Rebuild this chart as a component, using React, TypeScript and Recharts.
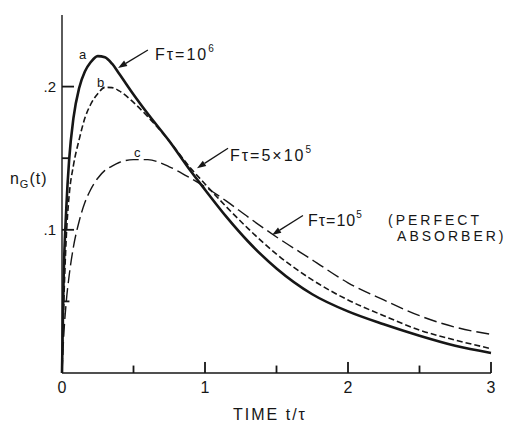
import { LineChart, Line, XAxis, YAxis, ReferenceDot, ReferenceLine } from 'recharts';

const INK = '#161616';
const FONT = "'Liberation Sans', Arial, sans-serif";

// time t/tau
const times = [0, 0.01, 0.03, 0.05, 0.08, 0.12, 0.16, 0.2, 0.25, 0.3, 0.35, 0.4, 0.5, 0.6, 0.75, 0.9, 1.0, 1.15, 1.3, 1.5, 1.75, 2.0, 2.25, 2.5, 2.75, 3.0];
// a: F tau = 10^6
const curveA = [0, 0.06, 0.115, 0.149, 0.178, 0.199, 0.2105, 0.217, 0.2213, 0.2205, 0.216, 0.209, 0.1945, 0.181, 0.162, 0.141, 0.128, 0.109, 0.092, 0.073, 0.055, 0.043, 0.034, 0.026, 0.019, 0.014];
// b: F tau = 5 x 10^5
const curveB = [0, 0.04, 0.095, 0.124, 0.145, 0.163, 0.178, 0.1875, 0.195, 0.1995, 0.1993, 0.197, 0.189, 0.179, 0.162, 0.143, 0.132, 0.116, 0.101, 0.083, 0.065, 0.051, 0.04, 0.03, 0.023, 0.017];
// c: F tau = 10^5 (perfect absorber)
const curveC = [0, 0.022, 0.05, 0.068, 0.088, 0.106, 0.119, 0.128, 0.136, 0.1415, 0.1445, 0.147, 0.149, 0.149, 0.144, 0.136, 0.13, 0.12, 0.109, 0.095, 0.079, 0.063, 0.051, 0.04, 0.032, 0.027];

const xTicks = [0, 0.5, 1, 1.5, 2, 2.5, 3];
const yTicks = [0.05, 0.1, 0.15, 0.2];
const yTickLabels: Record<string, string> = { '0.1': '.1', '0.2': '.2' };

const rows = times.map((t, i) => ({ t, a: curveA[i], b: curveB[i], c: curveC[i] }));

function arrowShape(p: any) {
  const { x1, y1, x2, y2 } = p;
  const ang = Math.atan2(y2 - y1, x2 - x1);
  const len = 9;
  const half = 3.2;
  const bx = x2 - len * Math.cos(ang);
  const by = y2 - len * Math.sin(ang);
  const px = -Math.sin(ang) * half;
  const py = Math.cos(ang) * half;
  return (
    <g>
      <line x1={x1} y1={y1} x2={bx} y2={by} stroke={INK} strokeWidth={1.3} />
      <polygon points={`${x2},${y2} ${bx + px},${by + py} ${bx - px},${by - py}`} fill={INK} />
    </g>
  );
}

// inward tick mark drawn as a thin filled bar from the segment end points
function tickShape(p: any) {
  const { x1, y1, x2, y2 } = p;
  const x = Math.min(x1, x2) - (x1 === x2 ? 0.9 : 0);
  const y = Math.min(y1, y2) - (y1 === y2 ? 0.9 : 0);
  const w = x1 === x2 ? 1.8 : Math.abs(x2 - x1);
  const h = y1 === y2 ? 1.8 : Math.abs(y2 - y1);
  return <rect x={x} y={y} width={w} height={h} fill={INK} />;
}

const textAt = (key: string, t: number, v: number, content: any, size = 16, spacing = 2) => (
  <ReferenceDot
    key={key}
    x={t}
    y={v}
    r={0}
    ifOverflow="visible"
    shape={(p: any) => (
      <text x={p.cx} y={p.cy} fontSize={size} letterSpacing={spacing} fontFamily={FONT} fill={INK}>
        {content}
      </text>
    )}
  />
);

const arrowAt = (key: string, from: [number, number], to: [number, number]) => (
  <ReferenceLine
    key={key}
    segment={[{ x: from[0], y: from[1] }, { x: to[0], y: to[1] }]}
    ifOverflow="visible"
    shape={arrowShape}
  />
);

export default function App() {
  return (
    <div style={{ position: 'absolute', left: 0, top: 0, background: '#fff' }}>
      <LineChart width={512} height={423} data={rows} margin={{ top: 15, right: 21, left: 0, bottom: 0 }}>
        <XAxis
          dataKey="t"
          type="number"
          domain={[0, 3]}
          ticks={xTicks}
          height={50}
          tickSize={0}
          tickMargin={9}
          tickLine={false}
          tickFormatter={(v: number) => (Number.isInteger(v) ? String(v) : '')}
          tick={{ fontSize: 16, fill: INK, fontFamily: FONT }}
          axisLine={{ stroke: INK, strokeWidth: 1.4 }}
        />
        <YAxis
          type="number"
          domain={[0, 0.25]}
          ticks={yTicks}
          width={62}
          tickSize={0}
          tickMargin={6}
          tickLine={false}
          tickFormatter={(v: number) => yTickLabels[String(v)] ?? ''}
          tick={{ fontSize: 15, fill: INK, fontFamily: FONT }}
          axisLine={{ stroke: INK, strokeWidth: 1.4 }}
        />

        {/* inward tick marks */}
        {xTicks.map((t) => (
          <ReferenceLine
            key={`xt${t}`}
            segment={[{ x: t, y: 0 }, { x: t, y: Number.isInteger(t) ? 0.0077 : 0.0052 }]}
            ifOverflow="visible"
            shape={tickShape}
          />
        ))}
        {yTicks.map((v) => (
          <ReferenceLine
            key={`yt${v}`}
            segment={[{ x: 0, y: v }, { x: yTickLabels[String(v)] ? 0.084 : 0.052, y: v }]}
            ifOverflow="visible"
            shape={tickShape}
          />
        ))}

        <Line dataKey="c" type="monotone" stroke={INK} strokeWidth={1.4} strokeDasharray="13 5" dot={false} isAnimationActive={false} />
        <Line dataKey="b" type="monotone" stroke={INK} strokeWidth={1.6} strokeDasharray="6 3" dot={false} isAnimationActive={false} />
        <Line dataKey="a" type="monotone" stroke={INK} strokeWidth={2.6} dot={false} isAnimationActive={false} />

        {arrowAt('arA', [0.601, 0.2256], [0.392, 0.213])}
        {arrowAt('arB', [1.161, 0.157], [0.944, 0.143])}
        {arrowAt('arC', [1.685, 0.11], [1.469, 0.0964])}

        {textAt('la', 0.119, 0.219, 'a', 13, 0)}
        {textAt('lb', 0.245, 0.1997, 'b', 13, 0)}
        {textAt('lc', 0.503, 0.151, 'c', 13, 0)}

        {textAt('nA', 0.65, 0.2186, <>Fτ=10<tspan dy={-8} fontSize={10}>6</tspan></>)}
        {textAt('nB', 1.175, 0.148, <>Fτ=5×10<tspan dy={-8} fontSize={10}>5</tspan></>)}
        {textAt('nC', 1.72, 0.1027, <>Fτ=10<tspan dy={-8} fontSize={10}>5</tspan></>, 16, 1)}
        {textAt('nC2', 2.28, 0.1034, '(PERFECT', 14, 3)}
        {textAt('nC3', 2.343, 0.0922, 'ABSORBER)', 14, 3)}

        {textAt('yl', -0.364, 0.132, <>n<tspan dy={4} fontSize={11}>G</tspan><tspan dy={-4}>(t)</tspan></>, 16, 1)}
        {textAt('xl', 1.196, -0.0328, 'TIME t/τ', 16, 2)}
      </LineChart>
    </div>
  );
}
